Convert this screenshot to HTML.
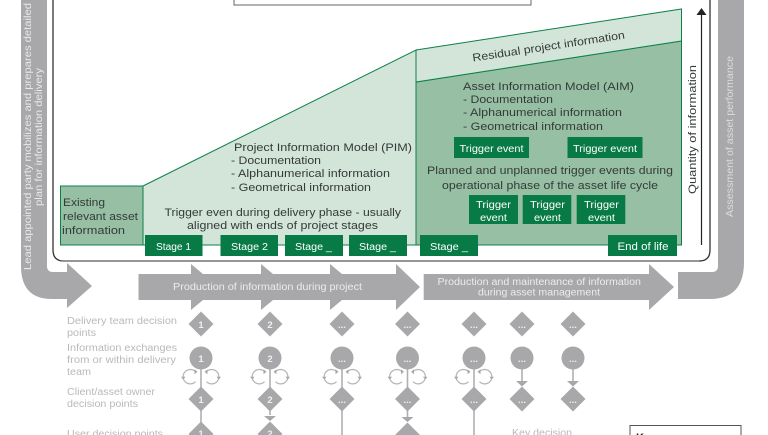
<!DOCTYPE html>
<html><head><meta charset="utf-8"><style>
html,body{margin:0;padding:0;background:#fff;width:768px;height:435px;overflow:hidden}
svg{display:block}
text{font-family:"Liberation Sans",sans-serif}
.d{fill:#333b38;font-size:11px}
.w{fill:#fff;font-size:10px}
.g{fill:#b9b9bc;font-size:10px}
.n{fill:#f0f0f1;font-size:9.500px;font-weight:bold;text-anchor:middle}
.s{fill:#087a45}
</style></head><body>
<svg width="768" height="435" viewBox="0 0 768 435" xmlns="http://www.w3.org/2000/svg">
<defs>
<path id="dm" d="M0-12.500 12.500 0 0 12.500-12.500 0Z" fill="#a8a8ab"/>
<g id="lp">
<g fill="none" stroke="#b5b5b8" stroke-width="1.200"><path d="M-5.500-5A7.200 7.200 0 1 0-5.500 5"/><path d="M5.500-5A7.200 7.200 0 1 1 5.500 5"/></g>
<g fill="#a8a8ab"><path d="M-6.500-7.500-6.500-2.500-3.500-5Z"/><path d="M-20 0-15.500 0-17.700 3Z"/><path d="M6.500-7.500 6.500-2.500 3.500-5Z"/><path d="M15.500 0 20 0 17.700 3Z"/></g>
</g>
</defs>
<!-- grey bands -->
<path d="M21 0H47V266Q47 272 53 272H67V263L92 286 67 308V299H52Q21 299 21 266Z" fill="#a8a8ab"/>
<path d="M718 0H744V262Q744 299 710 299H678V272H712Q718 272 718 266Z" fill="#a8a8ab"/>
<!-- main frame -->
<path d="M53 0V250Q53 261 64 261H699Q710 261 710 250V0" fill="#fff" stroke="#333" stroke-width="1.300"/>
<path d="M60 261H699" stroke="#777" stroke-width="1.200"/>
<rect x="234" y="-5" width="297" height="10" fill="#fff" stroke="#666" stroke-width="1"/>
<!-- areas -->
<polygon points="143,186 416,50 416,245 143,245" fill="#d3e4d9" stroke="#0d8049" stroke-width="1"/>
<rect x="60.500" y="186" width="82.500" height="59" fill="#97bfa3" stroke="#0d8049" stroke-width="1"/>
<polygon points="416,82 681.500,41 681.500,245 416,245" fill="#97bfa3" stroke="#0d8049" stroke-width="1"/>
<polygon points="416,50 681.500,9 681.500,41 416,82" fill="#d3e4d9" stroke="#0d8049" stroke-width="1"/>
<!-- quantity arrow -->
<path d="M701.500 245V12" stroke="#222" stroke-width="1.200"/>
<path d="M696.500 15 701.500 8 706.500 15Z" fill="#222"/>
<text class="d" transform="translate(696,194) rotate(-90)" textLength="129" lengthAdjust="spacingAndGlyphs">Quantity of information</text>
<!-- stage boxes -->
<rect class="s" x="145" y="235" width="57.500" height="21"/>
<rect class="s" x="220.500" y="235" width="57.500" height="21"/>
<rect class="s" x="285" y="235" width="58" height="21"/>
<rect class="s" x="349" y="235" width="58" height="21"/>
<rect class="s" x="420" y="235" width="58" height="21"/>
<rect class="s" x="608" y="235" width="69" height="21"/>
<text class="w" x="156" y="250" textLength="35" lengthAdjust="spacingAndGlyphs">Stage 1</text>
<text class="w" x="231" y="250" textLength="37" lengthAdjust="spacingAndGlyphs">Stage 2</text>
<text class="w" x="295" y="250" textLength="37" lengthAdjust="spacingAndGlyphs">Stage _</text>
<text class="w" x="359" y="250" textLength="37" lengthAdjust="spacingAndGlyphs">Stage _</text>
<text class="w" x="430" y="250" textLength="38" lengthAdjust="spacingAndGlyphs">Stage _</text>
<text class="w" x="617.500" y="250" textLength="51" lengthAdjust="spacingAndGlyphs" style="font-size:11px">End of life</text>
<!-- trigger boxes -->
<rect class="s" x="454" y="137" width="75" height="21"/>
<rect class="s" x="567.500" y="137" width="75" height="21"/>
<rect class="s" x="469" y="195" width="49" height="29"/>
<rect class="s" x="522.700" y="195" width="48.600" height="29"/>
<rect class="s" x="576.700" y="195" width="48.600" height="29"/>
<text class="w" x="459.500" y="152" textLength="64" lengthAdjust="spacingAndGlyphs">Trigger event</text>
<text class="w" x="573" y="152" textLength="64" lengthAdjust="spacingAndGlyphs">Trigger event</text>
<text class="w" x="476" y="208" textLength="35" lengthAdjust="spacingAndGlyphs">Trigger</text>
<text class="w" x="530" y="208" textLength="35" lengthAdjust="spacingAndGlyphs">Trigger</text>
<text class="w" x="584" y="208" textLength="35" lengthAdjust="spacingAndGlyphs">Trigger</text>
<text class="w" x="480" y="221" textLength="27" lengthAdjust="spacingAndGlyphs">event</text>
<text class="w" x="534" y="221" textLength="27" lengthAdjust="spacingAndGlyphs">event</text>
<text class="w" x="588" y="221" textLength="27" lengthAdjust="spacingAndGlyphs">event</text>
<!-- dark labels -->
<text class="d" x="63" y="206" textLength="42" lengthAdjust="spacingAndGlyphs">Existing</text>
<text class="d" x="63" y="220" textLength="75" lengthAdjust="spacingAndGlyphs">relevant asset</text>
<text class="d" x="62" y="234" textLength="63" lengthAdjust="spacingAndGlyphs">information</text>
<text class="d" x="234" y="151" textLength="178" lengthAdjust="spacingAndGlyphs">Project Information Model (PIM)</text>
<text class="d" x="231" y="164" textLength="90" lengthAdjust="spacingAndGlyphs">- Documentation</text>
<text class="d" x="231" y="177" textLength="159" lengthAdjust="spacingAndGlyphs">- Alphanumerical information</text>
<text class="d" x="231" y="191" textLength="140" lengthAdjust="spacingAndGlyphs">- Geometrical information</text>
<text class="d" x="164.500" y="216" textLength="236.500" lengthAdjust="spacingAndGlyphs">Trigger even during delivery phase - usually</text>
<text class="d" x="187" y="229" textLength="191" lengthAdjust="spacingAndGlyphs">aligned with ends of project stages</text>
<text class="d" transform="translate(473,61.500) rotate(-8.600)" textLength="154" lengthAdjust="spacingAndGlyphs">Residual project information</text>
<text class="d" x="463" y="90" textLength="171" lengthAdjust="spacingAndGlyphs">Asset Information Model (AIM)</text>
<text class="d" x="463" y="103" textLength="90" lengthAdjust="spacingAndGlyphs">- Documentation</text>
<text class="d" x="463" y="116" textLength="159" lengthAdjust="spacingAndGlyphs">- Alphanumerical information</text>
<text class="d" x="463" y="130" textLength="140" lengthAdjust="spacingAndGlyphs">- Geometrical information</text>
<text class="d" x="427" y="174" textLength="246" lengthAdjust="spacingAndGlyphs">Planned and unplanned trigger events during</text>
<text class="d" x="442" y="189" textLength="216" lengthAdjust="spacingAndGlyphs">operational phase of the asset life cycle</text>
<!-- rotated band text -->
<text fill="#e9e9ea" font-size="10" transform="translate(31,270) rotate(-90)" textLength="267" lengthAdjust="spacingAndGlyphs">Lead appointed party mobilizes and prepares detailed</text>
<text fill="#e9e9ea" font-size="10" transform="translate(42,206) rotate(-90)" textLength="138" lengthAdjust="spacingAndGlyphs">plan for information delivery</text>
<text fill="#dcdcde" font-size="10" transform="translate(733,217) rotate(-90)" textLength="161" lengthAdjust="spacingAndGlyphs">Assessment of asset performance</text>
<!-- process arrows -->
<path d="M138.500 274H191V264L203 274H261V264L273 274H330V264L342 274H396V264L420 287 396 310V300H342L330 310V300H273L261 310V300H203L191 310V300H138.500Z" fill="#a8a8ab"/>
<path d="M423.700 274H649V264L674 287 649 310V300H423.700Z" fill="#a8a8ab"/>
<text fill="#ececed" font-size="10" x="173" y="290" textLength="189" lengthAdjust="spacingAndGlyphs">Production of information during project</text>
<text fill="#ececed" font-size="10" x="437.500" y="285" textLength="203.500" lengthAdjust="spacingAndGlyphs">Production and maintenance of information</text>
<text fill="#ececed" font-size="10" x="478" y="295.500" textLength="122" lengthAdjust="spacingAndGlyphs">during asset management</text>
<!-- left grey labels -->
<text class="g" x="67" y="324" textLength="110" lengthAdjust="spacingAndGlyphs">Delivery team decision</text>
<text class="g" x="67" y="336" textLength="29" lengthAdjust="spacingAndGlyphs">points</text>
<text class="g" x="67" y="351" textLength="110" lengthAdjust="spacingAndGlyphs">Information exchanges</text>
<text class="g" x="67" y="363" textLength="109" lengthAdjust="spacingAndGlyphs">from or within delivery</text>
<text class="g" x="67" y="375" textLength="24" lengthAdjust="spacingAndGlyphs">team</text>
<text class="g" x="67" y="395" textLength="88" lengthAdjust="spacingAndGlyphs">Client/asset owner</text>
<text class="g" x="67" y="407" textLength="71" lengthAdjust="spacingAndGlyphs">decision points</text>
<text class="g" x="67" y="437" textLength="96" lengthAdjust="spacingAndGlyphs">User decision points</text>
<!-- connectors -->
<g stroke="#b0b0b3" stroke-width="1.600">
<path d="M201 358V435M270 358V415M342 358V435M407.500 358V418M474 358V435M522 358V382M573 358V382"/>
</g>
<g fill="#a8a8ab">
<path d="M264 416H276L270 421ZM401.500 417H413.500L407.500 422ZM516 381H528L522 386.500ZM567 381H579L573 386.500Z"/>
</g>
<use href="#lp" x="201" y="376.700"/><use href="#lp" x="270" y="376.700"/><use href="#lp" x="342" y="376.700"/><use href="#lp" x="407.500" y="376.700"/><use href="#lp" x="474" y="376.700"/>
<!-- row 1 diamonds -->
<use href="#dm" x="201" y="324"/><use href="#dm" x="270" y="324"/><use href="#dm" x="342" y="324"/><use href="#dm" x="407.500" y="324"/><use href="#dm" x="474" y="324"/><use href="#dm" x="522" y="324"/><use href="#dm" x="573" y="324"/>
<!-- row 2 circles -->
<g fill="#a8a8ab"><circle cx="201" cy="358" r="11.500"/><circle cx="270" cy="358" r="11.500"/><circle cx="342" cy="358" r="11.500"/><circle cx="407.500" cy="358" r="11.500"/><circle cx="474" cy="358" r="11.500"/><circle cx="522" cy="358" r="11.500"/><circle cx="573" cy="358" r="11.500"/></g>
<!-- row 3 diamonds -->
<use href="#dm" x="201" y="399"/><use href="#dm" x="270" y="399"/><use href="#dm" x="342" y="399"/><use href="#dm" x="407.500" y="399"/><use href="#dm" x="474" y="399"/><use href="#dm" x="522" y="399"/><use href="#dm" x="573" y="399"/>
<!-- row 4 diamonds -->
<use href="#dm" x="201" y="434"/><use href="#dm" x="270" y="434"/><use href="#dm" x="407.500" y="435"/>
<!-- numbers -->
<text class="n" x="201" y="328">1</text><text class="n" x="270" y="328">2</text><text class="n" x="342" y="328">...</text><text class="n" x="407.500" y="328">...</text><text class="n" x="474" y="328">...</text><text class="n" x="522" y="328">...</text><text class="n" x="573" y="328">...</text>
<text class="n" x="201" y="362">1</text><text class="n" x="270" y="362">2</text><text class="n" x="342" y="362">...</text><text class="n" x="407.500" y="362">...</text><text class="n" x="474" y="362">...</text><text class="n" x="522" y="362">...</text><text class="n" x="573" y="362">...</text>
<text class="n" x="201" y="403">1</text><text class="n" x="270" y="403">2</text><text class="n" x="342" y="403">...</text><text class="n" x="407.500" y="403">...</text><text class="n" x="474" y="403">...</text><text class="n" x="522" y="403">...</text><text class="n" x="573" y="403">...</text>
<text class="n" x="201" y="437">1</text><text class="n" x="270" y="437">2</text>
<!-- key -->
<text class="g" x="512" y="436" textLength="60" lengthAdjust="spacingAndGlyphs">Key decision</text>
<rect x="630" y="425.500" width="111" height="20" fill="#fff" stroke="#555" stroke-width="1"/>
<text x="636" y="441" font-size="11" font-weight="bold" fill="#222">Key</text>
</svg>
</body></html>
